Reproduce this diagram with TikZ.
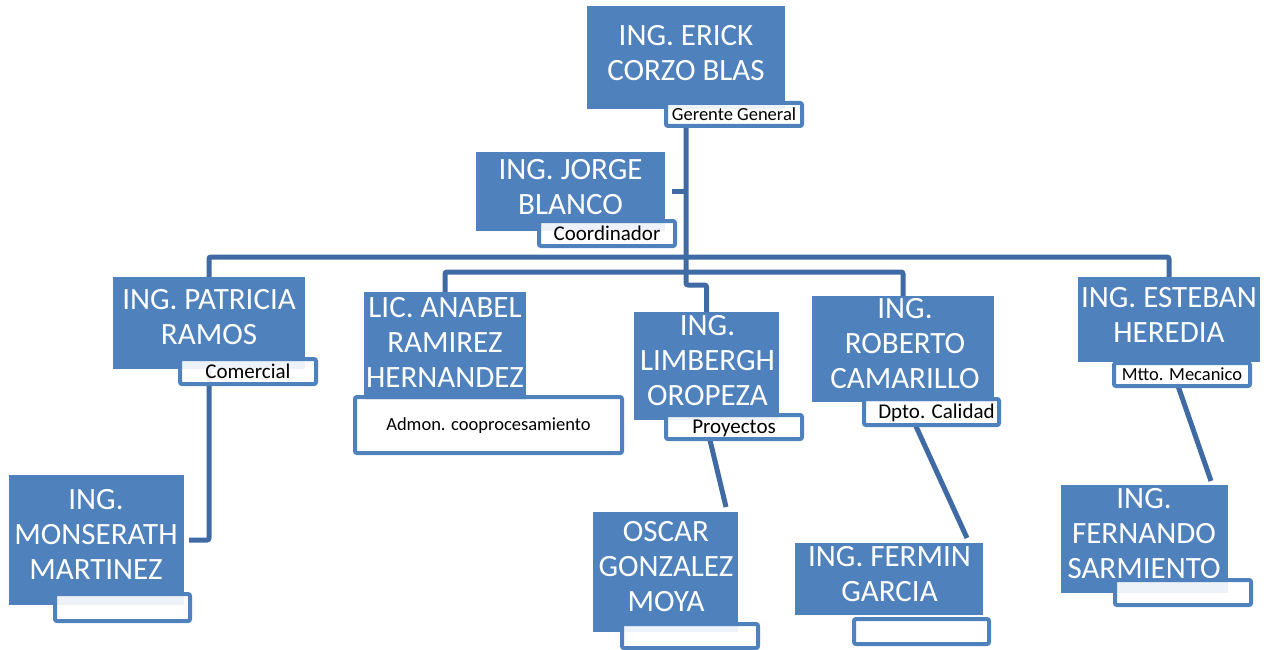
\documentclass[tikz,border=0pt]{standalone}
\usepackage{fontspec}
\setmainfont{Carlito}
\definecolor{boxblue}{HTML}{4F81BD}
\definecolor{lineblue}{HTML}{406AA3}
\begin{document}
\begin{tikzpicture}[x=1pt,y=-1pt,
  person/.style={fill=boxblue, draw=none, inner sep=0pt, outer sep=0pt},
  pname/.style={text=white, align=center, font=\fontsize{31}{35}\selectfont, inner sep=0pt},
  rolebox/.style={draw=boxblue, line width=4pt, fill=white, fill opacity=0.9, text opacity=1,
    rounded corners=2pt, inner sep=0pt, text=black},
  roleS/.style={rolebox, font=\fontsize{18.5}{20}\selectfont, text height=11.9pt, text depth=0pt},
  roleL/.style={rolebox, font=\fontsize{21}{23}\selectfont, text height=13.5pt, text depth=0pt},
  conn/.style={draw=lineblue, line width=5pt, rounded corners=2pt}
]
\useasboundingbox (0,0) rectangle (1274,650);

% person boxes (positions only, drawn later)
\path
  node[person, minimum width=198, minimum height=103] (erick) at (686,57.5) {}
  node[person, minimum width=189, minimum height=79] (jorge) at (570.5,191.5) {}
  node[person, minimum width=192, minimum height=92] (patricia) at (209,323) {}
  node[person, minimum width=162, minimum height=108] (anabel) at (445,346) {}
  node[person, minimum width=145, minimum height=108] (limbergh) at (706.5,366) {}
  node[person, minimum width=182, minimum height=106] (roberto) at (903,349) {}
  node[person, minimum width=182, minimum height=85] (esteban) at (1169,319.5) {}
  node[person, minimum width=175, minimum height=130] (monserath) at (96.5,540) {}
  node[person, minimum width=145, minimum height=120] (oscar) at (665.5,572) {}
  node[person, minimum width=188, minimum height=72] (fermin) at (889,579) {}
  node[person, minimum width=167, minimum height=108] (fernando) at (1144.5,539) {};

% coordinates for connectors
\coordinate (j1) at (686,285);
\coordinate (j2) at (706.5,285);
\coordinate (b1) at (686,257);
\coordinate (b2) at (686,272);
\coordinate (l1) at (709,436);
\coordinate (l2) at (726,507);
\coordinate (r1) at (914,422);
\coordinate (r2) at (967,538);
\coordinate (e1) at (1177,383);
\coordinate (e2) at (1211,481);
\coordinate (et) at (686,126);

% connectors
\draw[conn] (et) -- (j1) -- (j2) -- (limbergh.north);
\draw[conn] ([xshift=7pt]jorge.east) -- (jorge.east -| j1);
\draw[conn] (patricia.north) -- (patricia.north |- b1) -- (esteban.north |- b1) -- (esteban.north);
\draw[conn] (anabel.north) -- (anabel.north |- b2) -- (roberto.north |- b2) -- (roberto.north);
\draw[conn] (patricia.south) -- (patricia.south |- monserath.east) -- ([xshift=5pt]monserath.east);
\draw[conn, rounded corners=0pt] (l1) -- (l2);
\draw[conn, rounded corners=0pt] (r1) -- (r2);
\draw[conn, rounded corners=0pt] (e1) -- (e2);

% boxes
\foreach \n in {erick,jorge,patricia,anabel,limbergh,roberto,esteban,monserath,oscar,fermin,fernando}
  \fill[boxblue] (\n.north west) rectangle (\n.south east);

% names
\node[pname] (erickT) at (686,53) {ING. ERICK\\CORZO BLAS};
\node[pname] (jorgeT) at (570.5,187) {ING. JORGE\\BLANCO};
\node[pname] (patriciaT) at (209,317.5) {ING. PATRICIA\\RAMOS};
\node[pname] (anabelT) at (445,342.5) {LIC. ANABEL\\RAMIREZ\\HERNANDEZ};
\node[pname] (limberghT) at (707.5,361) {ING.\\LIMBERGH\\OROPEZA};
\node[pname] (robertoT) at (905,344) {ING.\\ROBERTO\\CAMARILLO};
\node[pname] (estebanT) at (1169,315) {ING. ESTEBAN\\HEREDIA};
\node[pname] (monserathT) at (96,534) {ING.\\MONSERATH\\MARTINEZ};
\node[pname] (oscarT) at (666,567) {OSCAR\\GONZALEZ\\MOYA};
\node[pname] (ferminT) at (889.5,574.5) {ING. FERMIN\\GARCIA};
\node[pname] (fernandoT) at (1144,534) {ING.\\FERNANDO\\SARMIENTO};

% role labels
\node[roleS, minimum width=136, minimum height=23] (erickL) at (734,114.5) {Gerente General};
\node[roleL, minimum width=136, minimum height=25] (jorgeL) at (607,233.5) {Coordinador};
\node[roleL, minimum width=136, minimum height=25] (patriciaL) at (248,371.5) {Comercial};
\node[roleS, minimum width=267, minimum height=56] (anabelL) at (488.5,425) {Admon. cooprocesamiento};
\node[roleL, minimum width=136, minimum height=24] (limberghL) at (734,427) {Proyectos};
\node[roleL, minimum width=135, minimum height=26] (robertoL) at (931.5,412) {\hspace*{10pt}Dpto. Calidad};
\node[roleS, minimum width=136, minimum height=23] (estebanL) at (1182,374.5) {Mtto. Mecanico};
\node[roleS, minimum width=135, minimum height=27] (monserathL) at (122.5,607.5) {};
\node[roleS, minimum width=136, minimum height=24] (oscarL) at (690,636) {};
\node[roleS, minimum width=135, minimum height=25] (ferminL) at (921.5,631.5) {};
\node[roleS, minimum width=136, minimum height=25] (fernandoL) at (1183,592.5) {};
\end{tikzpicture}
\end{document}
